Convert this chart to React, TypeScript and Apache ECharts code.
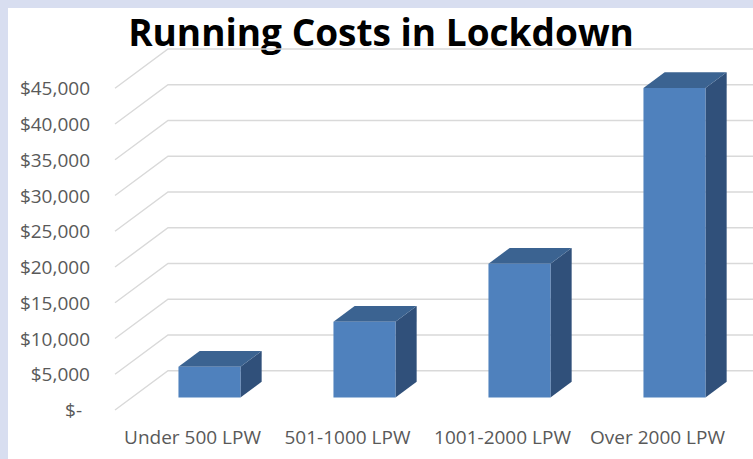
import React, { useEffect, useRef } from 'react';
import * as echarts from 'echarts';

const chartTitle = 'Running Costs in Lockdown';
const categories = ['Under 500 LPW', '501-1000 LPW', '1001-2000 LPW', 'Over 2000 LPW'];
const costs = [4300, 10600, 18700, 43300];
const yTicks = [0, 5000, 10000, 15000, 20000, 25000, 30000, 35000, 40000, 45000];

// 3D perspective styling
const DEPTH_DX = 53;
const DEPTH_DY = -39.3;
const BAR_FRONT = 0.32;
const BAR_DEPTH = 0.4;
const BAR_WIDTH = 0.4;
const FRONT = '#4F81BD';
const TOP = '#3B6391';
const SIDE = '#30507A';
const GRID = '#D9D9D9';
const LABEL = '#595959';
const FONT = 'Open Sans';

export default function App() {
  const ref = useRef<HTMLDivElement>(null);
  useEffect(() => {
    const chart = echarts.init(ref.current as HTMLDivElement, null, { renderer: 'svg' });
    chart.setOption({
      animation: false,
      backgroundColor: 'transparent',
      graphic: [
        {
          type: 'text',
          x: 381,
          y: 31.5,
          style: {
            text: chartTitle,
            fontFamily: FONT,
            fontWeight: 'bold',
            fontSize: 37,
            fill: '#000000',
            align: 'center',
            verticalAlign: 'middle',
          },
        },
      ],
      grid: { left: 115, top: 88.3, width: 620, height: 321.7 },
      xAxis: {
        type: 'category',
        data: categories,
        axisLine: { show: false },
        axisTick: { show: false },
        splitLine: { show: false },
        axisLabel: {
          color: LABEL,
          fontFamily: FONT,
          fontSize: 19,
          margin: 17,
          interval: 0,
          hideOverlap: false,
        },
      },
      yAxis: {
        type: 'value',
        min: 0,
        max: 45000,
        interval: 5000,
        axisLine: { show: false },
        axisTick: { show: false },
        splitLine: { show: false },
        axisLabel: {
          color: LABEL,
          fontFamily: FONT,
          fontSize: 19,
          margin: 25,
          formatter: (v: number) => (v === 0 ? '{z|$-}' : '$' + v.toLocaleString('en-US')),
          rich: {
            z: { color: LABEL, fontFamily: FONT, fontSize: 19, padding: [0, 8, 0, 0] },
          },
        },
      },
      series: [
        {
          type: 'custom',
          name: 'grid',
          z: 1,
          silent: true,
          encode: { x: 0, y: 1 },
          data: yTicks.map((t) => [0, t]),
          renderItem: (params: any, api: any) => {
            const cs = params.coordSys;
            const y = api.coord([0, api.value(1)])[1];
            const left = cs.x;
            const right = cs.x + cs.width;
            return {
              type: 'polyline',
              shape: {
                points: [
                  [left, y],
                  [left + DEPTH_DX, y + DEPTH_DY],
                  [right + DEPTH_DX, y + DEPTH_DY],
                ],
              },
              style: { stroke: GRID, lineWidth: 1.4, fill: null },
            };
          },
        },
        {
          type: 'custom',
          name: 'Running costs',
          z: 2,
          encode: { x: 0, y: 1 },
          data: costs.map((c, i) => [i, c]),
          renderItem: (params: any, api: any) => {
            const idx = api.value(0);
            const v = api.value(1);
            const base = api.coord([idx, 0]);
            const top = api.coord([idx, v]);
            const band = api.size([1, 0])[0];
            const w = band * BAR_WIDTH;
            const ox = DEPTH_DX * BAR_FRONT;
            const oy = DEPTH_DY * BAR_FRONT;
            const dx = DEPTH_DX * BAR_DEPTH;
            const dy = DEPTH_DY * BAR_DEPTH;
            const x0 = base[0] + ox - w / 2;
            const x1 = x0 + w;
            const yb = base[1] + oy;
            const yt = top[1] + oy;
            return {
              type: 'group',
              children: [
                {
                  type: 'polygon',
                  shape: { points: [[x1, yt], [x1, yb], [x1 + dx, yb + dy], [x1 + dx, yt + dy]] },
                  style: { fill: SIDE },
                },
                {
                  type: 'polygon',
                  shape: { points: [[x0, yt], [x1, yt], [x1 + dx, yt + dy], [x0 + dx, yt + dy]] },
                  style: { fill: TOP },
                },
                {
                  type: 'rect',
                  shape: { x: x0, y: yt, width: w, height: yb - yt },
                  style: { fill: FRONT },
                },
              ],
            };
          },
        },
      ],
    });
    return () => chart.dispose();
  }, []);

  return (
    <div style={{ position: 'fixed', left: 0, top: 0, width: 753, height: 459, background: '#D8DEF0' }}>
      <div style={{ position: 'absolute', left: 8, top: 8, width: 745, height: 451, background: '#FFFFFF' }} />
      <div ref={ref} style={{ position: 'absolute', left: 0, top: 0, width: 753, height: 459 }} />
    </div>
  );
}
